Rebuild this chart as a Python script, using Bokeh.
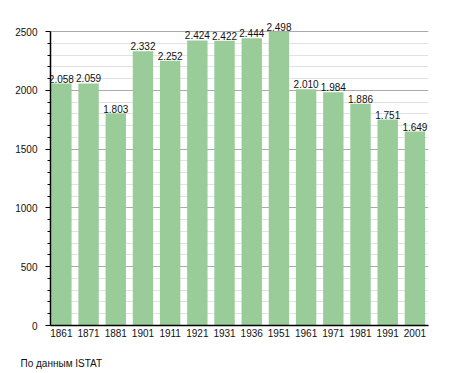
from bokeh.plotting import figure
from bokeh.models import Range1d, FixedTicker, ColumnDataSource, Title
from bokeh.core.properties import value
from bokeh.embed import file_html
from bokeh.resources import INLINE

years = ["1861", "1871", "1881", "1901", "1911", "1921", "1931", "1936", "1951", "1961", "1971", "1981", "1991", "2001"]
population = [2058, 2059, 1803, 2332, 2252, 2424, 2422, 2444, 2498, 2010, 1984, 1886, 1751, 1649]
value_labels = ["2.058", "2.059", "1.803", "2.332", "2.252", "2.424", "2.422", "2.444", "2.498", "2.010", "1.984", "1.886", "1.751", "1.649"]
y_major = [0, 500, 1000, 1500, 2000, 2500]
y_minor = [v for v in range(100, 2500, 100) if v % 500 != 0]
source_note = "По данным  ISTAT"

xs = list(range(len(years)))
src = ColumnDataSource(dict(x=xs, top=population, lab=value_labels))

FONT = "Liberation Sans"
TXT = "#111111"

p = figure(width=455, height=373,
           min_border_left=50, min_border_right=27, min_border_top=14, min_border_bottom=48,
           x_range=Range1d(-0.4, 13.5), y_range=Range1d(0, 2645),
           output_backend="svg", toolbar_location=None)
p.outline_line_color = None

p.vbar(x="x", top="top", width=0.75, bottom=0, source=src,
       fill_color="#99cc99", line_color=None)

p.text(x="x", y="top", text="lab", source=src, text_align="center",
       text_baseline="alphabetic", y_offset=-5, text_font_size="10px",
       text_color=TXT, text_font=value(FONT))

# x axis
p.xaxis.ticker = FixedTicker(ticks=xs)
p.xaxis.major_label_overrides = {i: y for i, y in enumerate(years)}
p.xaxis.major_tick_line_color = None
p.xaxis.minor_tick_line_color = None
p.xaxis.major_tick_out = 0
p.xaxis.minor_tick_out = 0
p.xaxis.axis_line_color = "black"
p.xaxis.axis_line_width = 1.5
p.xaxis.major_label_standoff = 3
p.xaxis.major_label_text_font_size = "10px"
p.xaxis.major_label_text_font = FONT
p.xaxis.major_label_text_color = TXT
# invisible spacer between the tick labels and the source note
p.xaxis.axis_label = " "
p.xaxis.axis_label_text_font_size = "1px"
p.xaxis.axis_label_standoff = 12

# y axis
yt = FixedTicker(ticks=y_major, minor_ticks=y_minor)
p.yaxis.ticker = yt
p.yaxis.bounds = (0, 2500)
p.yaxis.axis_line_color = "black"
p.yaxis.axis_line_width = 1.5
p.yaxis.major_tick_out = 5
p.yaxis.major_tick_in = 0
p.yaxis.minor_tick_out = 3
p.yaxis.minor_tick_in = 0
p.yaxis.major_tick_line_color = "black"
p.yaxis.minor_tick_line_color = "black"
p.yaxis.major_label_standoff = 8
p.yaxis.major_label_text_font_size = "10px"
p.yaxis.major_label_text_font = FONT
p.yaxis.major_label_text_color = TXT

p.xgrid.grid_line_color = None
p.ygrid.ticker = yt
p.ygrid.grid_line_color = "#aaaaaa"
p.ygrid.minor_grid_line_color = "#e2e2e2"

note = Title(text=source_note, align="left", offset=-30, standoff=0,
             text_font_size="10px", text_font=FONT, text_color=TXT,
             text_font_style="normal")
p.add_layout(note, "below")

open("out.html", "w").write(file_html(p, INLINE))
